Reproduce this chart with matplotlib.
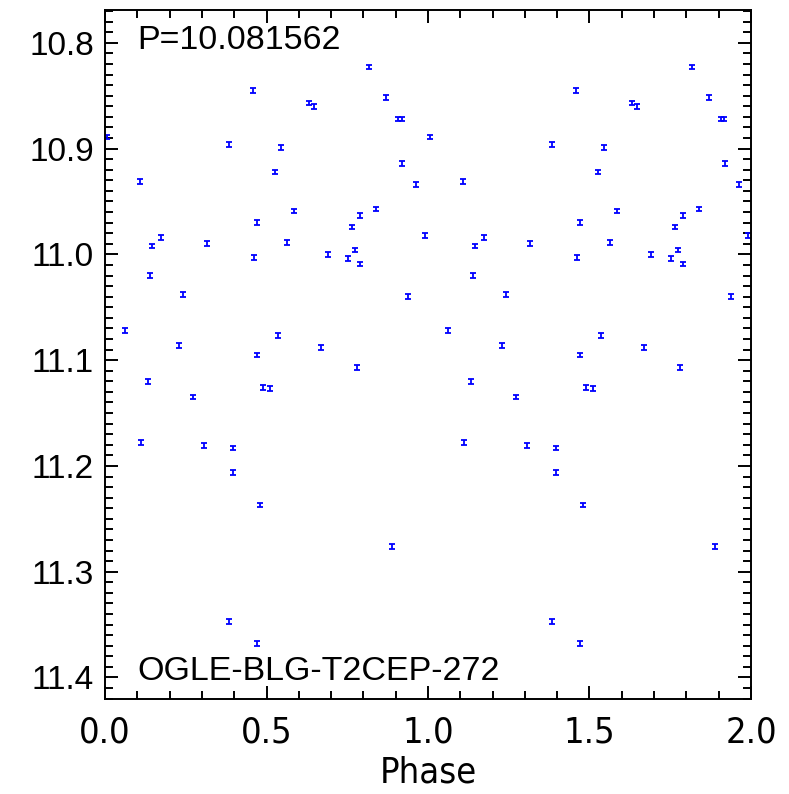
import matplotlib
matplotlib.use("Agg")
import matplotlib.pyplot as plt
from matplotlib.ticker import MultipleLocator, FormatStrFormatter

# phase-folded light curve (phase in [0, 1))
phase = [0.007, 0.061, 0.109, 0.112, 0.133, 0.139, 0.146, 0.174, 0.228, 0.242,
         0.273, 0.307, 0.317, 0.383, 0.383, 0.397, 0.397, 0.459, 0.461, 0.470,
         0.470, 0.472, 0.480, 0.488, 0.512, 0.526, 0.535, 0.545, 0.565, 0.584,
         0.632, 0.646, 0.669, 0.691, 0.753, 0.766, 0.774, 0.780, 0.790, 0.790,
         0.817, 0.840, 0.869, 0.889, 0.908, 0.918, 0.920, 0.939, 0.962, 0.991]
mag = [10.889, 11.072, 10.931, 11.178, 11.120, 11.020, 10.992, 10.984, 11.086, 11.038,
       11.135, 11.181, 10.990, 10.896, 11.347, 11.183, 11.206, 10.845, 11.003, 11.095,
       11.368, 10.970, 11.237, 11.126, 11.127, 10.922, 11.077, 10.899, 10.989, 10.959,
       10.857, 10.860, 11.088, 11.000, 11.004, 10.974, 10.996, 11.107, 10.963, 11.009,
       10.823, 10.957, 10.852, 11.276, 10.872, 10.872, 10.914, 11.040, 10.934, 10.982]
err = [0.0022] * len(mag)

period_label = "P=10.081562"
star_name = "OGLE-BLG-T2CEP-272"

plt.rcParams['font.family'] = ['Liberation Sans', 'DejaVu Sans']
narrow = ['Liberation Sans Narrow', 'DejaVu Sans']

fig = plt.figure(figsize=(7.89, 7.94), dpi=100)
ax = fig.add_axes([0.1331, 0.1193, 0.8187, 0.8681])

# plot two cycles
x = phase + [p + 1 for p in phase]
y = mag + mag
e = err + err
ax.errorbar(x, y, yerr=e, fmt='none', ecolor=(0, 0, 1), elinewidth=1.3,
            capsize=2.5, capthick=1.3)

ax.set_xlim(0, 2)
ax.set_ylim(11.4206, 10.769)

ax.xaxis.set_major_locator(MultipleLocator(0.5))
ax.xaxis.set_minor_locator(MultipleLocator(0.1))
ax.yaxis.set_major_locator(MultipleLocator(0.1))
ax.yaxis.set_minor_locator(MultipleLocator(0.01))
ax.xaxis.set_major_formatter(FormatStrFormatter('%.1f'))
ax.yaxis.set_major_formatter(FormatStrFormatter('%.1f'))

ax.tick_params(which='both', direction='in', top=True, right=True, width=1.4)
ax.tick_params(which='major', length=9.5)
ax.tick_params(which='minor', length=5.5)
ax.tick_params(axis='y', which='major', labelsize=24, pad=8)
ax.tick_params(axis='x', which='major', labelsize=26, pad=12)
for lab in ax.get_xticklabels():
    lab.set_fontfamily(narrow)
    lab.set_fontstretch('condensed')
for s in ax.spines.values():
    s.set_linewidth(1.4)

ax.set_xlabel("Phase", fontsize=26, family=narrow, fontstretch='condensed',
              labelpad=4)

ax.text(0.05, 0.978, period_label, transform=ax.transAxes, fontsize=24.5,
        ha='left', va='top')
ax.text(0.05, 0.018, star_name, transform=ax.transAxes, fontsize=24.5,
        ha='left', va='bottom')

fig.savefig("out.png", dpi=100)
